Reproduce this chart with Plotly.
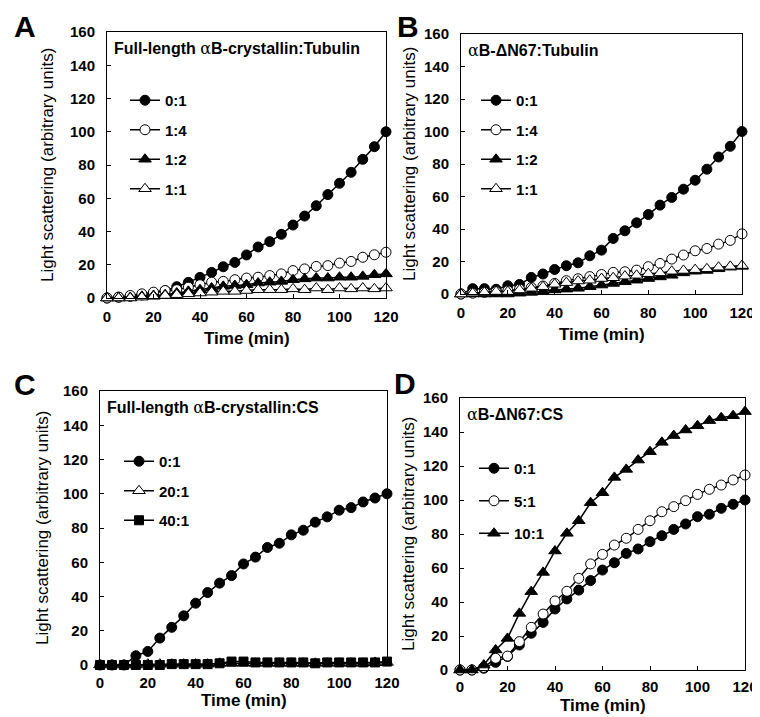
import plotly.graph_objects as go

# ---------------- data ----------------
time_min = [0, 5, 10, 15, 20, 25, 30, 35, 40, 45, 50, 55, 60, 65, 70, 75, 80, 85, 90, 95, 100, 105, 110, 115, 120]

# Panel A: Full-length aB-crystallin:Tubulin
a_0_1 = [0, 0.5, 1, 1.8, 2.8, 4.4, 6.8, 9.4, 12.4, 15.4, 18.8, 21.4, 25.9, 30.7, 33.9, 38.3, 43.9, 49.3, 55.5, 62.2, 69, 75.6, 83.4, 91, 100]
a_1_4 = [0, 0.5, 1.5, 2.5, 3.5, 4.5, 5, 6.5, 8, 9.5, 10, 11, 12, 12.5, 13.5, 14.5, 16.5, 17.5, 19, 19.5, 21, 22, 24.5, 26, 27.5]
a_1_2 = [0, 0, 0.3, 1, 1.5, 2, 3, 4, 5, 6, 7, 7.5, 8, 9, 9.5, 10, 11, 11.5, 12, 12, 12.5, 12.5, 13, 14, 14.5]
a_1_1 = [0, 0, 0, 0.5, 1, 1.5, 2, 2.5, 3, 3.5, 4, 4, 4.5, 5, 5, 5, 5.5, 5, 6, 5, 6, 5.5, 6, 5.5, 6]

# Panel B: aB-dN67:Tubulin
b_0_1 = [0, 3.3, 3.3, 2.9, 5.1, 5.9, 10.2, 12.3, 15.1, 17.4, 19.2, 23.5, 27, 34.2, 38.9, 43.8, 48.9, 54.7, 59.4, 64.5, 70, 76.8, 84.3, 90.9, 100]
b_1_4 = [0, 0.5, 1, 1.5, 2, 3, 4, 4.9, 6.5, 8.2, 9.4, 10.7, 12, 13.3, 13.7, 14.7, 16.8, 18.8, 21.5, 24, 26.6, 28, 30.7, 33, 37]
b_1_2 = [0, 0, 0, 0, 0, 0.5, 1, 1.5, 2.5, 3, 3.5, 4.5, 5.5, 6.5, 7.5, 8.5, 9.5, 10.5, 11.5, 13, 14, 14.5, 15.5, 16.5, 17]
b_1_1 = [0, 0.5, 1, 1.5, 1.5, 2.5, 3.5, 4.5, 6, 7, 8, 8.5, 9.5, 10, 11, 11.5, 12.5, 13, 14, 14.5, 15, 15.5, 16.5, 17, 17.5]

# Panel C: Full-length aB-crystallin:CS
c_0_1 = [0, 0, 0, 5.4, 7.9, 15.7, 22, 28.7, 36.1, 42.3, 47.8, 52.2, 59, 63, 68.6, 71.1, 76, 78.7, 83.4, 86.5, 90.4, 91.9, 95.2, 97.5, 100]
c_20_1 = [0, 0, 0, 0, 0.5, 0.5, 0.5, 0.5, 0.5, 0.5, 1, 1, 1, 1, 1, 1, 1, 1, 1, 1, 1, 1, 1, 1.5, 1.5]
c_40_1 = [0, 0, 0, 0, 0, 0, 0.5, 0.5, 0.5, 0.5, 1, 2, 2, 1.5, 1.5, 1.5, 1.5, 1.5, 1, 1.5, 1.5, 1.5, 1.5, 1.5, 2]

# Panel D: aB-dN67:CS
d_0_1 = [0, 0, 1, 4.5, 8, 14.7, 21.6, 28, 35.9, 41.8, 47, 52.6, 58.8, 63.1, 68.6, 71.2, 75.5, 79, 82.7, 85.9, 90.2, 91.6, 95.1, 97.5, 100]
d_5_1 = [0, 0, 1.5, 6.9, 8.2, 16.7, 25.1, 32.9, 40.6, 46.3, 53.9, 62.4, 68, 73.5, 77.5, 82.7, 87.8, 93.1, 96.1, 99.6, 103.3, 106.3, 108.8, 111.8, 114.7]
d_10_1 = [0, 0, 2.9, 11.8, 18.6, 33.3, 46.1, 57.4, 70, 80.4, 87.8, 98.4, 104.3, 113.3, 118, 123.5, 128.4, 133.9, 137.9, 141.2, 143.7, 146.7, 148.4, 149.6, 152]

x_ticks = [0, 20, 40, 60, 80, 100, 120]
y_ticks = [0, 20, 40, 60, 80, 100, 120, 140, 160]

ALPHA = "<span style=\"font-family:'DejaVu Serif';font-weight:normal\">\u03b1</span>"
panel_titles = [f"Full-length {ALPHA}B-crystallin:Tubulin", f"{ALPHA}B-\u0394N67:Tubulin",
                f"Full-length {ALPHA}B-crystallin:CS", f"{ALPHA}B-\u0394N67:CS"]
panel_letters = ["A", "B", "C", "D"]
x_title = "Time (min)"
y_title = "Light scattering (arbitrary units)"

# ---------------- layout geometry ----------------
# The page body has an 8px margin: the figure starts 8px in from the window's
# top-left corner, so positions below are given in window pixels and shifted.
OFF = 8
W, H = 760 - OFF, 717 - OFF
FONT = "Liberation Sans"

# plot boxes: (left, right, top, bottom) in window pixels
boxes = [(107, 386, 32, 298), (461, 742, 34, 294), (100, 387, 391, 665), (460, 745, 398, 670)]


def px(xp):
    return (xp - OFF) / W


def py(yp):
    return 1 - (yp - OFF) / H


FILLED_CIRCLE = dict(symbol="circle", color="black", size=10)
OPEN_CIRCLE = dict(symbol="circle", color="white", size=10)
FILLED_TRI = dict(symbol="triangle-up", color="black", size=11)
OPEN_TRI = dict(symbol="triangle-up", color="white", size=11)
FILLED_SQ = dict(symbol="square", color="black", size=9)

panels = [
    [("0:1", a_0_1, FILLED_CIRCLE), ("1:4", a_1_4, OPEN_CIRCLE), ("1:2", a_1_2, FILLED_TRI), ("1:1", a_1_1, OPEN_TRI)],
    [("0:1", b_0_1, FILLED_CIRCLE), ("1:4", b_1_4, OPEN_CIRCLE), ("1:2", b_1_2, FILLED_TRI), ("1:1", b_1_1, OPEN_TRI)],
    [("0:1", c_0_1, FILLED_CIRCLE), ("20:1", c_20_1, OPEN_TRI), ("40:1", c_40_1, FILLED_SQ)],
    [("0:1", d_0_1, FILLED_CIRCLE), ("5:1", d_5_1, OPEN_CIRCLE), ("10:1", d_10_1, FILLED_TRI)],
]

fig = go.Figure()
layout = dict(
    width=W, height=H, margin=dict(l=0, r=0, t=0, b=0, autoexpand=False),
    paper_bgcolor="white", plot_bgcolor="white",
    font=dict(family=FONT, color="black"),
    annotations=[],
)

# legend (left, top) in window pixels and gap between entries
legend_pos = [(125, 84), (476, 84), (119, 445), (474, 452)]
legend_gap = [7, 7, 7, 10]
# offsets of the axis titles from the plot box
x_title_gap = [41, 41, 35, 35]
x_label_standoff = [5, 5, 4, 3]
y_title_gap = [60, 52, 58, 52]

for i, (series, box) in enumerate(zip(panels, boxes)):
    n = "" if i == 0 else str(i + 1)
    l, r, t, b = box
    leg = "legend" if i == 0 else f"legend{i + 1}"
    for name, vals, mk in series:
        marker = dict(mk)
        marker["line"] = dict(color="black", width=1)
        fig.add_trace(go.Scatter(
            x=time_min, y=vals, name=name, mode="lines+markers",
            line=dict(color="black", width=1.5), marker=marker,
            xaxis=f"x{n}", yaxis=f"y{n}", legend=leg, legendgroup=f"{i}-{name}",
            cliponaxis=False,
        ))
    layout[f"xaxis{n}"] = dict(
        domain=[px(l), px(r)], anchor=f"y{n}", range=[0, 120],
        tickvals=x_ticks, ticks="inside", ticklen=4, tickcolor="black",
        showline=True, linecolor="black", linewidth=1, mirror=True,
        showgrid=False, zeroline=False,
        tickfont=dict(family=FONT, size=15, weight="bold", color="black"),
        ticklabelstandoff=x_label_standoff[i], ticklabeloverflow="allow",
    )
    layout[f"yaxis{n}"] = dict(
        domain=[py(b), py(t)], anchor=f"x{n}", range=[0, 160],
        tickvals=y_ticks, ticks="inside", ticklen=4, tickcolor="black",
        showline=True, linecolor="black", linewidth=1, mirror=True,
        showgrid=False, zeroline=False,
        tickfont=dict(family=FONT, size=15, weight="bold", color="black"),
        ticklabelstandoff=8, ticklabeloverflow="allow",
    )
    lx, ly = legend_pos[i]
    layout[leg] = dict(
        x=px(lx), y=py(ly), xanchor="left", yanchor="top",
        bgcolor="rgba(0,0,0,0)", borderwidth=0,
        font=dict(family=FONT, size=15, weight="bold", color="black"),
        tracegroupgap=legend_gap[i], itemwidth=30,
    )
    # panel title inside the box
    layout["annotations"].append(dict(
        text=panel_titles[i], x=px(l + 5), y=py(t + 16), xref="paper", yref="paper",
        xanchor="left", yanchor="middle", showarrow=False,
        font=dict(family=FONT, size=16, weight="bold", color="black"),
    ))
    # axis titles
    layout["annotations"].append(dict(
        text=x_title, x=px((l + r) / 2), y=py(b + x_title_gap[i]), xref="paper", yref="paper",
        xanchor="center", yanchor="middle", showarrow=False,
        font=dict(family=FONT, size=17, weight="bold", color="black"),
    ))
    layout["annotations"].append(dict(
        text=y_title, x=px(l - y_title_gap[i]), y=py((t + b) / 2), xref="paper", yref="paper",
        xanchor="center", yanchor="middle", showarrow=False, textangle=-90,
        font=dict(family=FONT, size=17, color="black"),
    ))

letter_pos = [(25, 27), (408, 27), (25, 385), (405, 384)]
for letter, (lx, ly) in zip(panel_letters, letter_pos):
    layout["annotations"].append(dict(
        text=letter, x=px(lx), y=py(ly), xref="paper", yref="paper",
        xanchor="center", yanchor="middle", showarrow=False,
        font=dict(family=FONT, size=30, weight="bold", color="black"),
    ))

fig.update_layout(**layout)
fig.write_html("out.html")
